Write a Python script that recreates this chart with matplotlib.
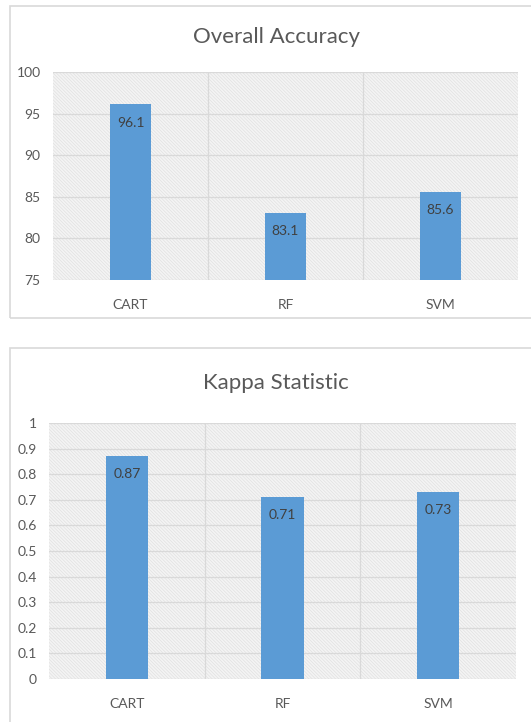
import numpy as np
import matplotlib.pyplot as plt
from matplotlib.patches import Rectangle

plt.rcParams['font.family'] = ['Lato', 'DejaVu Sans']
plt.rcParams['hatch.color'] = '#e0e0e0'
plt.rcParams['hatch.linewidth'] = 0.5

models = ['CART', 'RF', 'SVM']
accuracy = [96.1, 83.1, 85.6]
kappa = [0.87, 0.71, 0.73]
acc_ticks = [75, 80, 85, 90, 95, 100]
kappa_ticks = [0, 0.1, 0.2, 0.3, 0.4, 0.5, 0.6, 0.7, 0.8, 0.9, 1]
kappa_ticklabels = ['0', '0.1', '0.2', '0.3', '0.4', '0.5', '0.6', '0.7', '0.8', '0.9', '1']

bar_col = '#5b9bd5'
txt_col = '#595959'
grid_col = '#d9d9d9'

fig = plt.figure(figsize=(5.31, 7.22), dpi=100)

# panel borders
fig.patches.append(Rectangle((10/531, 1 - 318/722), 530/531, 312/722, transform=fig.transFigure,
                             fill=False, edgecolor='#d9d9d9', lw=1.2))
fig.patches.append(Rectangle((10/531, -0.01), 530/531, (722 - 348)/722 + 0.01, transform=fig.transFigure,
                             fill=False, edgecolor='#d9d9d9', lw=1.2))


def draw(ax, vals, ticks, ticklabels, ylim, title, fmt, title_y):
    x = np.arange(len(models))
    bg = Rectangle((0, 0), 1, 1, transform=ax.transAxes, facecolor='#f4f4f4',
                   hatch='\\' * 10, edgecolor='#e0e0e0', lw=0, zorder=0)
    ax.add_patch(bg)
    ax.set_facecolor('white')
    for t in ticks:
        ax.axhline(t, color=grid_col, lw=0.9, zorder=1)
    for b in [0.5, 1.5]:
        ax.axvline(b, color=grid_col, lw=0.9, zorder=1)
    ax.bar(x, [v - ylim[0] for v in vals], bottom=ylim[0], width=0.27,
           color=bar_col, zorder=2)
    for xi, v in zip(x, vals):
        ax.annotate(fmt.format(v), (xi, v), xytext=(0, -13), textcoords='offset points',
                    ha='center', va='center', fontsize=10, color='#404040', zorder=3)
    ax.set_xlim(-0.5, 2.5)
    ax.set_ylim(*ylim)
    ax.set_xticks(x)
    ax.set_xticklabels(models)
    ax.set_yticks(ticks)
    ax.set_yticklabels(ticklabels)
    ax.tick_params(length=0, colors=txt_col, labelsize=10)
    ax.tick_params(axis='x', pad=14)
    ax.tick_params(axis='y', pad=9)
    for s in ax.spines.values():
        s.set_visible(False)
    fig.text(0.5 + 0.02, title_y, title, ha='center', va='center', fontsize=16, color=txt_col)


ax1 = fig.add_axes([53/531, 1 - 280/722, 465/531, 208/722])
draw(ax1, accuracy, acc_ticks, [str(t) for t in acc_ticks], (75, 100), 'Overall Accuracy', '{:.1f}', 1 - 37/722)

ax2 = fig.add_axes([49/531, 1 - 679/722, 467/531, 256/722])
draw(ax2, kappa, kappa_ticks, kappa_ticklabels, (0, 1), 'Kappa Statistic', '{:.2f}', 1 - 383/722)

fig.savefig('out.png', dpi=100)
